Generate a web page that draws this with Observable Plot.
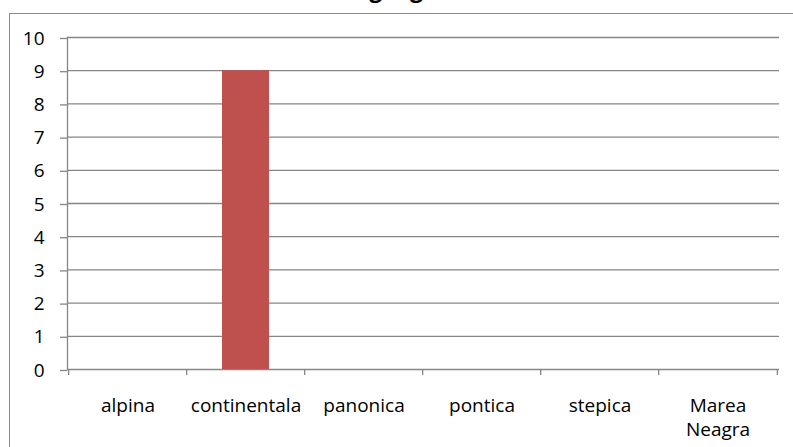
<!DOCTYPE html>
<html><head><meta charset="utf-8">
<script src="https://cdn.jsdelivr.net/npm/d3@7"></script>
<script src="https://cdn.jsdelivr.net/npm/@observablehq/plot@0.6"></script>
<style>
html,body{margin:0;padding:0;background:#fff;overflow:hidden;}
#wrap{position:relative;width:793px;height:447px;overflow:hidden;}
#frame{position:absolute;left:9px;top:13px;width:840px;height:480px;border:1.5px solid #8c8c8c;box-sizing:border-box;}
#title{position:absolute;left:243px;width:274px;top:-28px;line-height:1;text-align:center;font:bold 23px 'Open Sans',sans-serif;white-space:nowrap;color:#000;}
#chart{position:absolute;left:0;top:0;}
</style></head><body>
<div id="wrap"><div id="frame"></div><div id="title"></div><div id="chart"></div></div>
<script>
const titleText = "Zona biogeografica";
const categories = ["alpina", "continentala", "panonica", "pontica", "stepica", "Marea Neagra"];
const values = [0, 9, 0, 0, 0, 0];
const yTicks = [0, 1, 2, 3, 4, 5, 6, 7, 8, 9, 10];

document.getElementById("title").textContent = titleText;

const W = 793, H = 447, ML = 67, MR = 14, MT = 37, MB = 78;
const step = (W - ML - MR) / categories.length;
const data = categories.map((c, i) => ({category: c, value: values[i]}));
const gridColor = "#868686";

const chart = Plot.plot({
  width: W, height: H,
  marginLeft: ML, marginRight: MR, marginTop: MT, marginBottom: MB,
  style: {fontFamily: "'Open Sans', sans-serif", fontSize: "19px", color: "#000", background: "transparent", overflow: "visible"},
  x: {domain: categories, paddingInner: 0.6, paddingOuter: 0.3},
  y: {domain: [0, 10]},
  marks: [
    Plot.gridY(yTicks, {stroke: gridColor, strokeOpacity: 1, strokeWidth: 1.3}),
    Plot.barY(data, {x: "category", y: "value", fill: "#C0504D"}),
    Plot.frame({anchor: "left", stroke: gridColor, strokeWidth: 1.3}),
    Plot.axisY(yTicks, {tickSize: 7, tickPadding: 16, stroke: gridColor, strokeWidth: 1.3, fill: "#000", label: null, tickFormat: d => String(d), dy: 1}),
    Plot.ruleX(categories, {x: d => d, y1: 0, y2: 0, insetBottom: -6, dx: -step / 2, stroke: gridColor, strokeWidth: 1.3}),
    Plot.ruleX(categories.slice(-1), {x: d => d, y1: 0, y2: 0, insetBottom: -6, dx: step / 2, stroke: gridColor, strokeWidth: 1.3}),
    Plot.axisX({tickSize: 0, tickPadding: 26, tickFormat: d => d.replace(" ", "\n"), lineHeight: 1.25, fill: "#000", label: null})
  ]
});
document.getElementById("chart").appendChild(chart);
</script>
</body></html>
